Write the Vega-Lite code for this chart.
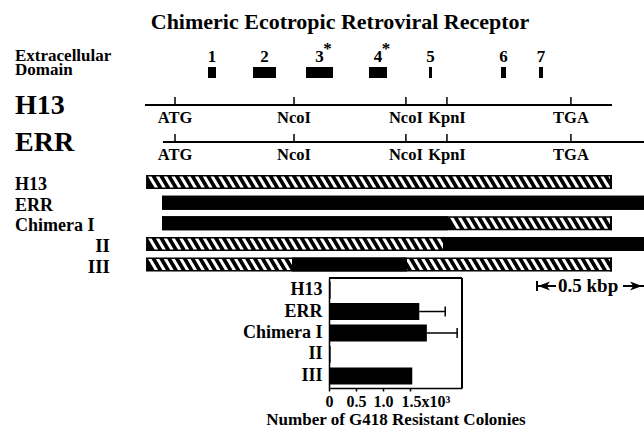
{
  "$schema": "https://vega.github.io/schema/vega-lite/v6.json",
  "width": 644,
  "height": 430,
  "autosize": {"type": "fit", "contains": "padding"},
  "padding": 0,
  "background": "white",
  "config": {
    "view": {"stroke": null},
    "font": "Liberation Serif",
    "text": {"font": "Liberation Serif", "fontWeight": "bold", "color": "black"}
  },
  "datasets": {
    "maps": [
      {"map": "H13", "track": -2.738, "start": -0.139, "end": 2.023},
      {"map": "ERR", "track": -0.942, "start": -0.056, "end": 2.3}
    ],
    "sites": [
      {"map": "H13", "track": -2.738, "site": "ATG", "pos": 0},
      {"map": "H13", "track": -2.738, "site": "NcoI", "pos": 0.551},
      {"map": "H13", "track": -2.738, "site": "NcoI", "pos": 1.069},
      {"map": "H13", "track": -2.738, "site": "KpnI", "pos": 1.259},
      {"map": "H13", "track": -2.738, "site": "TGA", "pos": 1.833},
      {"map": "ERR", "track": -0.942, "site": "ATG", "pos": 0},
      {"map": "ERR", "track": -0.942, "site": "NcoI", "pos": 0.551},
      {"map": "ERR", "track": -0.942, "site": "NcoI", "pos": 1.069},
      {"map": "ERR", "track": -0.942, "site": "KpnI", "pos": 1.259},
      {"map": "ERR", "track": -0.942, "site": "TGA", "pos": 1.833}
    ],
    "domains": [
      {"domain": "1", "start": 0.1528, "end": 0.1898, "star": false},
      {"domain": "2", "start": 0.3611, "end": 0.4676, "star": false},
      {"domain": "3", "start": 0.6065, "end": 0.7315, "star": true},
      {"domain": "4", "start": 0.8981, "end": 0.9815, "star": true},
      {"domain": "5", "start": 1.1759, "end": 1.1898, "star": false},
      {"domain": "6", "start": 1.5093, "end": 1.5324, "star": false},
      {"domain": "7", "start": 1.6852, "end": 1.7037, "star": false}
    ],
    "segments": [
      {"construct": "H13", "track": 1, "kind": "H13", "start": -0.134, "end": 2.023},
      {"construct": "ERR", "track": 2, "kind": "ERR", "start": -0.06, "end": 2.3},
      {"construct": "Chimera I", "track": 3, "kind": "ERR", "start": -0.06, "end": 1.264},
      {"construct": "Chimera I", "track": 3, "kind": "H13", "start": 1.264, "end": 2.023},
      {"construct": "II", "track": 4, "kind": "H13", "start": -0.134, "end": 1.25},
      {"construct": "II", "track": 4, "kind": "ERR", "start": 1.25, "end": 2.3},
      {"construct": "III", "track": 5, "kind": "H13", "start": -0.134, "end": 0.551},
      {"construct": "III", "track": 5, "kind": "ERR", "start": 0.551, "end": 1.074},
      {"construct": "III", "track": 5, "kind": "H13", "start": 1.074, "end": 2.023}
    ],
    "constructs": [
      {"construct": "H13", "track": 1},
      {"construct": "ERR", "track": 2},
      {"construct": "Chimera I", "track": 3},
      {"construct": "II", "track": 4},
      {"construct": "III", "track": 5}
    ],
    "scalebar": [{"label": "0.5 kbp", "start": 1.676, "end": 2.176}],
    "colonies": [
      {"construct": "H13", "colonies": 30},
      {"construct": "ERR", "colonies": 1670, "upper": 2150},
      {"construct": "Chimera I", "colonies": 1810, "upper": 2370},
      {"construct": "II", "colonies": 30},
      {"construct": "III", "colonies": 1540}
    ]
  },
  "layer": [
    {
      "layer": [
        {
          "data": {"name": "maps"},
          "mark": {"type": "rule", "color": "black", "strokeWidth": 2, "clip": true},
          "encoding": {
            "x": {"field": "start", "type": "quantitative", "scale": {"domain": [-0.8102, 2.1713], "nice": false, "zero": false}, "axis": null},
            "x2": {"field": "end"},
            "y": {"field": "track", "type": "quantitative", "scale": {"domain": [-7.835, 13.029], "nice": false, "zero": false, "reverse": true}, "axis": null}
          }
        },
        {
          "data": {"name": "maps"},
          "mark": {"type": "text", "align": "left", "baseline": "alphabetic", "fontSize": 28, "dy": 8.5},
          "encoding": {
            "x": {"datum": -0.7407, "type": "quantitative", "scale": {"domain": [-0.8102, 2.1713], "nice": false, "zero": false}, "axis": null},
            "y": {"field": "track", "type": "quantitative", "scale": {"domain": [-7.835, 13.029], "nice": false, "zero": false, "reverse": true}, "axis": null},
            "text": {"field": "map"}
          }
        },
        {
          "data": {"name": "sites"},
          "mark": {"type": "tick", "orient": "vertical", "size": 8, "thickness": 1.5, "yOffset": -4, "color": "black", "opacity": 1},
          "encoding": {
            "x": {"field": "pos", "type": "quantitative", "scale": {"domain": [-0.8102, 2.1713], "nice": false, "zero": false}, "axis": null},
            "y": {"field": "track", "type": "quantitative", "scale": {"domain": [-7.835, 13.029], "nice": false, "zero": false, "reverse": true}, "axis": null}
          }
        },
        {
          "data": {"name": "sites"},
          "mark": {"type": "text", "align": "center", "baseline": "alphabetic", "fontSize": 16.5, "dy": 18},
          "encoding": {
            "x": {"field": "pos", "type": "quantitative", "scale": {"domain": [-0.8102, 2.1713], "nice": false, "zero": false}, "axis": null},
            "y": {"field": "track", "type": "quantitative", "scale": {"domain": [-7.835, 13.029], "nice": false, "zero": false, "reverse": true}, "axis": null},
            "text": {"field": "site"}
          }
        },
        {
          "data": {"name": "domains"},
          "mark": {"type": "rule", "color": "black", "strokeWidth": 11},
          "encoding": {
            "x": {"field": "start", "type": "quantitative", "scale": {"domain": [-0.8102, 2.1713], "nice": false, "zero": false}, "axis": null},
            "x2": {"field": "end"},
            "y": {"datum": -4.316, "type": "quantitative", "scale": {"domain": [-7.835, 13.029], "nice": false, "zero": false, "reverse": true}, "axis": null}
          }
        },
        {
          "data": {"name": "domains"},
          "transform": [{"fold": ["start", "end"], "as": ["edge", "pos"]}],
          "mark": {"type": "text", "align": "center", "baseline": "alphabetic", "fontSize": 17, "dy": -10.5},
          "encoding": {
            "x": {"aggregate": "mean", "field": "pos", "type": "quantitative", "scale": {"domain": [-0.8102, 2.1713], "nice": false, "zero": false}, "axis": null},
            "y": {"datum": -4.316, "type": "quantitative", "scale": {"domain": [-7.835, 13.029], "nice": false, "zero": false, "reverse": true}, "axis": null},
            "text": {"field": "domain", "type": "nominal"}
          }
        },
        {
          "data": {"name": "domains"},
          "transform": [{"filter": "datum.star"}, {"fold": ["start", "end"], "as": ["edge", "pos"]}],
          "mark": {"type": "text", "text": "*", "align": "center", "baseline": "alphabetic", "fontSize": 17, "dx": 8, "dy": -19},
          "encoding": {
            "x": {"aggregate": "mean", "field": "pos", "type": "quantitative", "scale": {"domain": [-0.8102, 2.1713], "nice": false, "zero": false}, "axis": null},
            "y": {"datum": -4.316, "type": "quantitative", "scale": {"domain": [-7.835, 13.029], "nice": false, "zero": false, "reverse": true}, "axis": null},
            "detail": {"field": "domain", "type": "nominal"}
          }
        },
        {
          "data": {"values": [{"label": "Extracellular Domain"}]},
          "mark": {"type": "text", "align": "left", "baseline": "alphabetic", "fontSize": 17, "lineBreak": " ", "lineHeight": 13.5, "dy": -11.5},
          "encoding": {
            "x": {"datum": -0.7407, "type": "quantitative", "scale": {"domain": [-0.8102, 2.1713], "nice": false, "zero": false}, "axis": null},
            "y": {"datum": -4.316, "type": "quantitative", "scale": {"domain": [-7.835, 13.029], "nice": false, "zero": false, "reverse": true}, "axis": null},
            "text": {"field": "label"}
          }
        },
        {
          "data": {"name": "segments"},
          "mark": {"type": "rule", "color": "black", "strokeWidth": 14, "clip": true},
          "encoding": {
            "x": {"field": "start", "type": "quantitative", "scale": {"domain": [-0.8102, 2.1713], "nice": false, "zero": false}, "axis": null},
            "x2": {"field": "end"},
            "y": {"field": "track", "type": "quantitative", "scale": {"domain": [-7.835, 13.029], "nice": false, "zero": false, "reverse": true}, "axis": null}
          }
        },
        {
          "data": {"name": "segments"},
          "transform": [{"filter": "datum.kind == 'H13'"}],
          "mark": {
            "type": "point",
            "shape": "M2,-5.5h3.5l6.5,11h-3.5l-6.5,-11m7.8,0h3.5l6.5,11h-3.5l-6.5,-11m7.8,0h3.5l6.5,11h-3.5l-6.5,-11m7.8,0h3.5l6.5,11h-3.5l-6.5,-11m7.8,0h3.5l6.5,11h-3.5l-6.5,-11m7.8,0h3.5l6.5,11h-3.5l-6.5,-11m7.8,0h3.5l6.5,11h-3.5l-6.5,-11m7.8,0h3.5l6.5,11h-3.5l-6.5,-11m7.8,0h3.5l6.5,11h-3.5l-6.5,-11m7.8,0h3.5l6.5,11h-3.5l-6.5,-11m7.8,0h3.5l6.5,11h-3.5l-6.5,-11m7.8,0h3.5l6.5,11h-3.5l-6.5,-11m7.8,0h3.5l6.5,11h-3.5l-6.5,-11m7.8,0h3.5l6.5,11h-3.5l-6.5,-11m7.8,0h3.5l6.5,11h-3.5l-6.5,-11m7.8,0h3.5l6.5,11h-3.5l-6.5,-11m7.8,0h3.5l6.5,11h-3.5l-6.5,-11m7.8,0h3.5l6.5,11h-3.5l-6.5,-11m7.8,0h3.5l6.5,11h-3.5l-6.5,-11m7.8,0h3.5l6.5,11h-3.5l-6.5,-11m7.8,0h3.5l6.5,11h-3.5l-6.5,-11m7.8,0h3.5l6.5,11h-3.5l-6.5,-11m7.8,0h3.5l6.5,11h-3.5l-6.5,-11m7.8,0h3.5l6.5,11h-3.5l-6.5,-11m7.8,0h3.5l6.5,11h-3.5l-6.5,-11m7.8,0h3.5l6.5,11h-3.5l-6.5,-11m7.8,0h3.5l6.5,11h-3.5l-6.5,-11m7.8,0h3.5l6.5,11h-3.5l-6.5,-11m7.8,0h3.5l6.5,11h-3.5l-6.5,-11m7.8,0h3.5l6.5,11h-3.5l-6.5,-11m7.8,0h3.5l6.5,11h-3.5l-6.5,-11m7.8,0h3.5l6.5,11h-3.5l-6.5,-11m7.8,0h3.5l6.5,11h-3.5l-6.5,-11m7.8,0h3.5l6.5,11h-3.5l-6.5,-11m7.8,0h3.5l6.5,11h-3.5l-6.5,-11m7.8,0h3.5l6.5,11h-3.5l-6.5,-11m7.8,0h3.5l6.5,11h-3.5l-6.5,-11m7.8,0h3.5l6.5,11h-3.5l-6.5,-11m7.8,0h3.5l6.5,11h-3.5l-6.5,-11m7.8,0h3.5l6.5,11h-3.5l-6.5,-11m7.8,0h3.5l6.5,11h-3.5l-6.5,-11m7.8,0h3.5l6.5,11h-3.5l-6.5,-11m7.8,0h3.5l6.5,11h-3.5l-6.5,-11m7.8,0h3.5l6.5,11h-3.5l-6.5,-11m7.8,0h3.5l6.5,11h-3.5l-6.5,-11m7.8,0h3.5l6.5,11h-3.5l-6.5,-11m7.8,0h3.5l6.5,11h-3.5l-6.5,-11m7.8,0h3.5l6.5,11h-3.5l-6.5,-11m7.8,0h3.5l6.5,11h-3.5l-6.5,-11m7.8,0h3.5l6.5,11h-3.5l-6.5,-11m7.8,0h3.5l6.5,11h-3.5l-6.5,-11m7.8,0h3.5l6.5,11h-3.5l-6.5,-11m7.8,0h3.5l6.5,11h-3.5l-6.5,-11m7.8,0h3.5l6.5,11h-3.5l-6.5,-11m7.8,0h3.5l6.5,11h-3.5l-6.5,-11m7.8,0h3.5l6.5,11h-3.5l-6.5,-11m7.8,0h3.5l6.5,11h-3.5l-6.5,-11m7.8,0h3.5l6.5,11h-3.5l-6.5,-11m7.8,0h3.5l6.5,11h-3.5l-6.5,-11m7.8,0h3.5l6.5,11h-3.5l-6.5,-11m7.8,0h3.5l6.5,11h-3.5l-6.5,-11m7.8,0h3.5l6.5,11h-3.5l-6.5,-11",
            "filled": true,
            "fill": "white",
            "color": "white",
            "size": 4,
            "strokeWidth": 0,
            "opacity": 1,
            "clip": true
          },
          "encoding": {
            "x": {"aggregate": "min", "field": "start", "type": "quantitative", "scale": {"domain": [-0.8102, 2.1713], "nice": false, "zero": false}, "axis": null},
            "y": {"field": "track", "type": "quantitative", "scale": {"domain": [-7.835, 13.029], "nice": false, "zero": false, "reverse": true}, "axis": null}
          }
        },
        {
          "data": {"name": "segments"},
          "transform": [{"filter": "datum.kind == 'ERR'"}],
          "mark": {"type": "rule", "color": "black", "strokeWidth": 14, "clip": true},
          "encoding": {
            "x": {"field": "start", "type": "quantitative", "scale": {"domain": [-0.8102, 2.1713], "nice": false, "zero": false}, "axis": null},
            "x2": {"field": "end"},
            "y": {"field": "track", "type": "quantitative", "scale": {"domain": [-7.835, 13.029], "nice": false, "zero": false, "reverse": true}, "axis": null}
          }
        },
        {
          "data": {"name": "segments"},
          "transform": [{"filter": "datum.kind == 'H13'"}],
          "mark": {"type": "tick", "orient": "vertical", "size": 14, "thickness": 2, "xOffset": -1, "color": "black", "opacity": 1},
          "encoding": {
            "x": {"field": "end", "type": "quantitative", "scale": {"domain": [-0.8102, 2.1713], "nice": false, "zero": false}, "axis": null},
            "y": {"field": "track", "type": "quantitative", "scale": {"domain": [-7.835, 13.029], "nice": false, "zero": false, "reverse": true}, "axis": null}
          }
        },
        {
          "data": {"name": "constructs"},
          "transform": [{"filter": "datum.construct != 'II' && datum.construct != 'III'"}],
          "mark": {"type": "text", "align": "left", "baseline": "alphabetic", "fontSize": 18, "dy": 8},
          "encoding": {
            "x": {"datum": -0.7407, "type": "quantitative", "scale": {"domain": [-0.8102, 2.1713], "nice": false, "zero": false}, "axis": null},
            "y": {"field": "track", "type": "quantitative", "scale": {"domain": [-7.835, 13.029], "nice": false, "zero": false, "reverse": true}, "axis": null},
            "text": {"field": "construct"}
          }
        },
        {
          "data": {"name": "constructs"},
          "transform": [{"filter": "datum.construct == 'II' || datum.construct == 'III'"}],
          "mark": {"type": "text", "align": "right", "baseline": "alphabetic", "fontSize": 19, "dy": 8},
          "encoding": {
            "x": {"datum": -0.3009, "type": "quantitative", "scale": {"domain": [-0.8102, 2.1713], "nice": false, "zero": false}, "axis": null},
            "y": {"field": "track", "type": "quantitative", "scale": {"domain": [-7.835, 13.029], "nice": false, "zero": false, "reverse": true}, "axis": null},
            "text": {"field": "construct"}
          }
        },
        {
          "data": {"values": [{"title": "Chimeric Ecotropic Retroviral Receptor"}]},
          "mark": {"type": "text", "align": "center", "baseline": "alphabetic", "fontSize": 22},
          "encoding": {
            "x": {"datum": 0.764, "type": "quantitative", "scale": {"domain": [-0.8102, 2.1713], "nice": false, "zero": false}, "axis": null},
            "y": {"datum": -6.427, "type": "quantitative", "scale": {"domain": [-7.835, 13.029], "nice": false, "zero": false, "reverse": true}, "axis": null},
            "text": {"field": "title"}
          }
        },
        {
          "data": {"name": "scalebar"},
          "mark": {"type": "tick", "orient": "vertical", "size": 10, "thickness": 2, "color": "black", "opacity": 1},
          "encoding": {
            "x": {"field": "start", "type": "quantitative", "scale": {"domain": [-0.8102, 2.1713], "nice": false, "zero": false}, "axis": null},
            "y": {"datum": 6.042, "type": "quantitative", "scale": {"domain": [-7.835, 13.029], "nice": false, "zero": false, "reverse": true}, "axis": null}
          }
        },
        {
          "data": {"name": "scalebar"},
          "mark": {"type": "rule", "strokeWidth": 2, "color": "black", "x2Offset": 19},
          "encoding": {
            "x": {"field": "start", "type": "quantitative", "scale": {"domain": [-0.8102, 2.1713], "nice": false, "zero": false}, "axis": null},
            "x2": {"field": "start"},
            "y": {"datum": 6.042, "type": "quantitative", "scale": {"domain": [-7.835, 13.029], "nice": false, "zero": false, "reverse": true}, "axis": null}
          }
        },
        {
          "data": {"name": "scalebar"},
          "mark": {"type": "rule", "strokeWidth": 2, "color": "black", "xOffset": -22, "clip": true},
          "encoding": {
            "x": {"field": "end", "type": "quantitative", "scale": {"domain": [-0.8102, 2.1713], "nice": false, "zero": false}, "axis": null},
            "x2": {"field": "end"},
            "y": {"datum": 6.042, "type": "quantitative", "scale": {"domain": [-7.835, 13.029], "nice": false, "zero": false, "reverse": true}, "axis": null}
          }
        },
        {
          "data": {"name": "scalebar"},
          "mark": {"type": "point", "shape": "M-1,0L1,-0.75L0.45,0L1,0.75Z", "filled": true, "color": "black", "size": 144, "strokeWidth": 0, "opacity": 1, "xOffset": 7},
          "encoding": {
            "x": {"field": "start", "type": "quantitative", "scale": {"domain": [-0.8102, 2.1713], "nice": false, "zero": false}, "axis": null},
            "y": {"datum": 6.042, "type": "quantitative", "scale": {"domain": [-7.835, 13.029], "nice": false, "zero": false, "reverse": true}, "axis": null}
          }
        },
        {
          "data": {"name": "scalebar"},
          "mark": {"type": "point", "shape": "M1,0L-1,-0.75L-0.45,0L-1,0.75Z", "filled": true, "color": "black", "size": 144, "strokeWidth": 0, "opacity": 1, "xOffset": -9, "clip": true},
          "encoding": {
            "x": {"field": "end", "type": "quantitative", "scale": {"domain": [-0.8102, 2.1713], "nice": false, "zero": false}, "axis": null},
            "y": {"datum": 6.042, "type": "quantitative", "scale": {"domain": [-7.835, 13.029], "nice": false, "zero": false, "reverse": true}, "axis": null}
          }
        },
        {
          "data": {"name": "scalebar"},
          "mark": {"type": "text", "align": "left", "baseline": "alphabetic", "fontSize": 19, "dx": 21, "dy": 6},
          "encoding": {
            "x": {"field": "start", "type": "quantitative", "scale": {"domain": [-0.8102, 2.1713], "nice": false, "zero": false}, "axis": null},
            "y": {"datum": 6.042, "type": "quantitative", "scale": {"domain": [-7.835, 13.029], "nice": false, "zero": false, "reverse": true}, "axis": null},
            "text": {"field": "label"}
          }
        }
      ]
    },
    {
      "data": {"name": "colonies"},
      "encoding": {
        "y": {
          "field": "construct",
          "type": "nominal",
          "scale": {"domain": ["H13", "ERR", "Chimera I", "II", "III"], "range": [278, 388], "paddingInner": 0.2, "paddingOuter": 0.16},
          "axis": {"orient": "left", "offset": -329, "title": null, "ticks": false, "grid": false, "domainColor": "black", "domainWidth": 1.5, "labelColor": "black", "labelFont": "Liberation Serif", "labelFontWeight": "bold", "labelFontSize": 18, "labelPadding": 7}
        }
      },
      "layer": [
        {
          "mark": {"type": "bar", "color": "black"},
          "encoding": {
            "x": {
              "field": "colonies",
              "type": "quantitative",
              "scale": {"domain": [0, 2460], "range": [329, 462], "nice": false, "zero": true},
              "axis": {
                "orient": "bottom", "offset": -42, "values": [0, 500, 1000, 1500],
                "labelExpr": "datum.value == 0 ? '0' : datum.value == 1500 ? '1.5x10³' : format(datum.value / 1000, '.1f')",
                "title": "Number of G418 Resistant Colonies",
                "grid": false, "domainColor": "black", "domainWidth": 1.5, "tickColor": "black", "tickSize": 3, "tickWidth": 1.5,
                "labelColor": "black", "labelFont": "Liberation Serif", "labelFontWeight": "bold", "labelFontSize": 16, "labelPadding": 2,
                "labelFlush": false, "labelOverlap": false,
                "labelAlign": {"condition": {"test": "datum.value == 1500", "value": "left"}, "value": "center"},
                "labelOffset": {"condition": {"test": "datum.value == 1500", "value": -9}, "value": 0},
                "titleColor": "black", "titleFont": "Liberation Serif", "titleFontWeight": "bold", "titleFontSize": 17, "titlePadding": 2
              }
            }
          }
        },
        {
          "transform": [{"filter": "isValid(datum.upper)"}],
          "mark": {"type": "rule", "color": "black", "strokeWidth": 1.5},
          "encoding": {
            "x": {"field": "colonies", "type": "quantitative", "scale": {"domain": [0, 2460], "range": [329, 462], "nice": false, "zero": true}},
            "x2": {"field": "upper"}
          }
        },
        {
          "transform": [{"filter": "isValid(datum.upper)"}],
          "mark": {"type": "tick", "orient": "vertical", "size": 10, "thickness": 1.5, "color": "black", "opacity": 1},
          "encoding": {
            "x": {"field": "upper", "type": "quantitative", "scale": {"domain": [0, 2460], "range": [329, 462], "nice": false, "zero": true}}
          }
        },
        {
          "mark": {"type": "rule", "color": "black", "strokeWidth": 1.5, "yOffset": -12},
          "encoding": {
            "x": {"datum": 0, "type": "quantitative", "scale": {"domain": [0, 2460], "range": [329, 462], "nice": false, "zero": true}},
            "x2": {"datum": 2460},
            "y": {"datum": "H13", "type": "nominal"}
          }
        },
        {
          "mark": {"type": "tick", "orient": "vertical", "size": 110, "thickness": 1.5, "color": "black", "opacity": 1},
          "encoding": {
            "x": {"datum": 2460, "type": "quantitative", "scale": {"domain": [0, 2460], "range": [329, 462], "nice": false, "zero": true}},
            "y": {"datum": "Chimera I", "type": "nominal"}
          }
        }
      ]
    }
  ],
  "resolve": {
    "scale": {"x": "independent", "y": "independent"},
    "axis": {"x": "independent", "y": "independent"}
  }
}
